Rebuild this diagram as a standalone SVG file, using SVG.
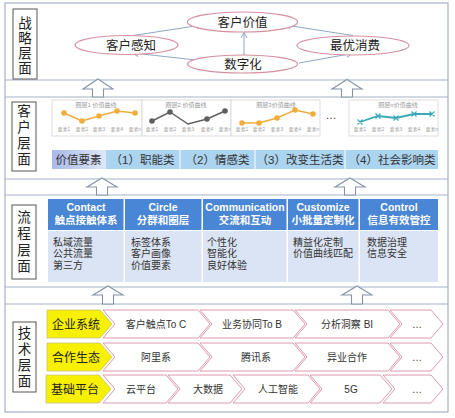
<svg xmlns="http://www.w3.org/2000/svg" width="455" height="418" viewBox="0 0 455 418">
<defs>
<style>
text{font-family:"Liberation Sans","Noto Sans CJK SC",sans-serif;fill:#333}
.frame{fill:none;stroke:#a3b1c4;stroke-width:1.2}
.lbl{fill:#fff;stroke:#555;stroke-width:1}
.vt{font-size:13.5px;text-anchor:middle;fill:#222}
.ell{fill:#fff;stroke:#d68f9f;stroke-width:1.2}
.et{font-size:12.5px;text-anchor:middle;fill:#222}
.con{fill:none;stroke:#8ea7c6;stroke-width:1;marker-end:url(#ah)}
.barrow{fill:#fff;stroke:#8693a6;stroke-width:1.1}
.panel{fill:#fff;stroke:#d4d4d4;stroke-width:0.8}
.ct{font-size:6px;text-anchor:middle;fill:#9a9a9a}
.ax{font-size:4.8px;text-anchor:middle;fill:#a0a0a0}
.vcell{fill:#abd4f0}
.vtx{font-size:11.5px;text-anchor:middle;fill:#333}
.hd{fill:#4a86d6}
.bd{fill:#dbe4f4}
.ht{font-size:10.5px;font-weight:bold;text-anchor:middle;fill:#fff}
.bt{font-size:10px;fill:#333}
.chev{fill:#fff;stroke:#dc9aac;stroke-width:1}
.yel{fill:#f7f000;stroke:#c9c27a;stroke-width:0.8}
.yt{font-size:12px;text-anchor:middle;fill:#222}
.cvt{font-size:10px;text-anchor:middle;fill:#333}
</style>
<marker id="ah" markerWidth="7" markerHeight="7" refX="6" refY="3.5" orient="auto" markerUnits="userSpaceOnUse">
<path d="M0.5,0.5 L6,3.5 L0.5,6.5" fill="none" stroke="#8ea7c6" stroke-width="1"/>
</marker>
<linearGradient id="vg" x1="0" y1="0" x2="1" y2="0">
<stop offset="0" stop-color="#a9b9ea"/>
<stop offset="1" stop-color="#dfe6f6"/>
</linearGradient>
</defs>

<!-- outer frame and separators -->
<g id="frame">
<rect class="frame" x="5" y="3" width="443" height="409"/>
<line class="frame" x1="5" y1="80" x2="448" y2="80"/>
<line class="frame" x1="5" y1="97" x2="448" y2="97"/>
<line class="frame" x1="5" y1="179" x2="448" y2="179"/>
<line class="frame" x1="5" y1="195" x2="448" y2="195"/>
<line class="frame" x1="5" y1="287" x2="448" y2="287"/>
<line class="frame" x1="5" y1="304" x2="448" y2="304"/>
</g>

<!-- layer labels -->
<g id="label-strategy">
<rect class="lbl" x="13" y="9" width="24" height="70"/>
<text class="vt" x="25" y="28">战</text><text class="vt" x="25" y="43">略</text><text class="vt" x="25" y="58">层</text><text class="vt" x="25" y="73">面</text>
</g>
<g id="label-customer">
<rect class="lbl" x="12" y="102" width="24" height="69"/>
<text class="vt" x="24" y="116">客</text><text class="vt" x="24" y="131.5">户</text><text class="vt" x="24" y="148">层</text><text class="vt" x="24" y="164">面</text>
</g>
<g id="label-process">
<rect class="lbl" x="12" y="205" width="24" height="74"/>
<text class="vt" x="24" y="222">流</text><text class="vt" x="24" y="238">程</text><text class="vt" x="24" y="255">层</text><text class="vt" x="24" y="270.5">面</text>
</g>
<g id="label-tech">
<rect class="lbl" x="13" y="322" width="23" height="70"/>
<text class="vt" x="24.5" y="338">技</text><text class="vt" x="24.5" y="353.5">术</text><text class="vt" x="24.5" y="370">层</text><text class="vt" x="24.5" y="386">面</text>
</g>

<!-- connectors -->
<g id="connectors">
<line class="con" x1="133" y1="35.5" x2="202" y2="25"/>
<line class="con" x1="353" y1="35.5" x2="285" y2="25"/>
<line class="con" x1="244" y1="55" x2="244" y2="32.5"/>
<line class="con" x1="196" y1="60" x2="133" y2="53"/>
<line class="con" x1="299" y1="63" x2="352" y2="53.5"/>
<path class="barrow" d="M98,79 L113,89 L103.5,89 L103.5,97 L92.5,97 L92.5,89 L83,89 Z"/>
<path class="barrow" d="M347,79.5 L362,89 L352.5,89 L352.5,97 L341.5,97 L341.5,89 L332,89 Z"/>
<path class="barrow" d="M102,178 L117,187 L107.5,187 L107.5,195 L96.5,195 L96.5,187 L87,187 Z"/>
<path class="barrow" d="M350,178 L365,187 L355.5,187 L355.5,195 L344.5,195 L344.5,187 L335,187 Z"/>
<path class="barrow" d="M108,286 L123,295 L113.5,295 L113.5,304 L102.5,304 L102.5,295 L93,295 Z"/>
<path class="barrow" d="M357,286 L372,295 L362.5,295 L362.5,304 L351.5,304 L351.5,295 L342,295 Z"/>
</g>

<!-- strategy nodes -->
<g id="n-value"><ellipse class="ell" cx="242.5" cy="22" rx="55" ry="10"/><text class="et" x="242.5" y="26.5">客户价值</text></g>
<g id="n-perception"><ellipse class="ell" cx="126.5" cy="45" rx="51.5" ry="9.5"/><text class="et" x="131" y="49.5">客户感知</text></g>
<g id="n-consume"><ellipse class="ell" cx="353" cy="45.5" rx="56" ry="9.5"/><text class="et" x="355" y="50">最优消费</text></g>
<g id="n-digital"><ellipse class="ell" cx="242.5" cy="64" rx="55" ry="9"/><text class="et" x="243" y="68.5">数字化</text></g>

<!-- customer layer charts -->
<g id="chart1">
<rect class="panel" x="52" y="100" width="90" height="36"/>
<text class="ct" x="96" y="107">圈层1 价值曲线</text>
<polyline points="64,113 82,121 99,116 117,111 135,113" fill="none" stroke="#f0ac3c" stroke-width="1.5"/>
<g fill="#f0ac3c"><circle cx="64" cy="113" r="2.8"/><circle cx="82" cy="121" r="2.8"/><circle cx="99" cy="116" r="2.8"/><circle cx="117" cy="111" r="2.8"/><circle cx="135" cy="113" r="2.8"/></g>
<text class="ax" x="64" y="131">要素1</text><text class="ax" x="82" y="131">要素2</text><text class="ax" x="99" y="131">要素3</text><text class="ax" x="117" y="131">要素4</text><text class="ax" x="135" y="131">要素n</text>
</g>
<g id="chart2">
<rect class="panel" x="142" y="100" width="89" height="36"/>
<text class="ct" x="186" y="107">圈层2 价值曲线</text>
<polyline points="152,121 170,112 188,124 207,119 225,111" fill="none" stroke="#5f5f5f" stroke-width="1.5"/>
<g fill="#5f5f5f"><circle cx="152" cy="121" r="2.8"/><circle cx="170" cy="112" r="2.8"/><circle cx="207" cy="119" r="2.8"/><circle cx="225" cy="111" r="2.8"/></g>
<text class="ax" x="152" y="131">要素1</text><text class="ax" x="170" y="131">要素2</text><text class="ax" x="188" y="131">要素3</text><text class="ax" x="207" y="131">要素4</text><text class="ax" x="225" y="131">要素n</text>
</g>
<g id="chart3">
<rect class="panel" x="231" y="100" width="89" height="36"/>
<text class="ct" x="276" y="107">圈层3价值曲线</text>
<polyline points="242,123 259,123 277,118 295,110 313,114" fill="none" stroke="#f0ac3c" stroke-width="1.5"/>
<g fill="#f0ac3c"><circle cx="242" cy="123" r="2.8"/><circle cx="259" cy="123" r="2.8"/><circle cx="277" cy="118" r="2.8"/><circle cx="295" cy="110" r="2.8"/><circle cx="313" cy="114" r="2.8"/></g>
<text class="ax" x="242" y="131">要素1</text><text class="ax" x="259" y="131">要素2</text><text class="ax" x="277" y="131">要素3</text><text class="ax" x="295" y="131">要素4</text><text class="ax" x="313" y="131">要素n</text>
</g>
<g id="ellipsis"><text x="331" y="119" font-size="11" text-anchor="middle" fill="#444">…</text></g>
<g id="chart4">
<rect class="panel" x="349" y="100" width="89" height="36"/>
<text class="ct" x="398" y="107">圈层n价值曲线</text>
<polyline points="360,122 378,116 396,118 414,114 432,114" fill="none" stroke="#3aa8b8" stroke-width="1.8"/>
<g stroke="#3aa8b8" stroke-width="1.2">
<path d="M357.5,119.5l5,5m0,-5l-5,5M375.5,113.5l5,5m0,-5l-5,5M393.5,115.5l5,5m0,-5l-5,5M411.5,111.5l5,5m0,-5l-5,5M429.5,111.5l5,5m0,-5l-5,5"/>
</g>
<text class="ax" x="360" y="131">要素1</text><text class="ax" x="378" y="131">要素2</text><text class="ax" x="396" y="131">要素3</text><text class="ax" x="414" y="131">要素4</text><text class="ax" x="432" y="131">要素n</text>
</g>

<!-- value element bar -->
<g id="value-bar">
<rect x="52" y="150" width="53" height="19" fill="url(#vg)"/>
<rect class="vcell" x="105.5" y="150" width="74" height="19"/>
<rect class="vcell" x="180.5" y="150" width="74" height="19"/>
<rect class="vcell" x="255.5" y="150" width="89" height="19"/>
<rect class="vcell" x="345.5" y="150" width="92.5" height="19"/>
<text class="vtx" x="78.5" y="163.5">价值要素</text>
<text class="vtx" x="142.5" y="163.5">（1）职能类</text>
<text class="vtx" x="217.5" y="163.5">（2）情感类</text>
<text class="vtx" x="300" y="163.5">（3）改变生活类</text>
<text class="vtx" x="392" y="163.5">（4）社会影响类</text>
</g>

<!-- process layer -->
<g id="p-contact">
<rect class="hd" x="48" y="199" width="75.5" height="31"/><rect class="bd" x="48" y="231" width="75.5" height="51"/>
<text class="ht" x="86" y="211">Contact</text><text class="ht" x="86" y="224">触点接触体系</text>
<text class="bt" x="53" y="245.5">私域流量</text><text class="bt" x="53" y="257">公共流量</text><text class="bt" x="53" y="268.5">第三方</text>
</g>
<g id="p-circle">
<rect class="hd" x="125" y="199" width="76.5" height="31"/><rect class="bd" x="125" y="231" width="76.5" height="51"/>
<text class="ht" x="163" y="211">Circle</text><text class="ht" x="163" y="224">分群和圈层</text>
<text class="bt" x="131" y="245.5">标签体系</text><text class="bt" x="131" y="257">客户画像</text><text class="bt" x="131" y="268.5">价值要素</text>
</g>
<g id="p-communication">
<rect class="hd" x="203" y="199" width="83.5" height="31"/><rect class="bd" x="203" y="231" width="83.5" height="51"/>
<text class="ht" x="245" y="211">Communication</text><text class="ht" x="245" y="224">交流和互动</text>
<text class="bt" x="207" y="245.5">个性化</text><text class="bt" x="207" y="257">智能化</text><text class="bt" x="207" y="268.5">良好体验</text>
</g>
<g id="p-customize">
<rect class="hd" x="288" y="199" width="70.5" height="31"/><rect class="bd" x="288" y="231" width="70.5" height="51"/>
<text class="ht" x="323" y="211">Customize</text><text class="ht" x="323" y="224">小批量定制化</text>
<text class="bt" x="293" y="245.5">精益化定制</text><text class="bt" x="293" y="257">价值曲线匹配</text>
</g>
<g id="p-control">
<rect class="hd" x="360" y="199" width="78" height="31"/><rect class="bd" x="360" y="231" width="78" height="51"/>
<text class="ht" x="399" y="211">Control</text><text class="ht" x="399" y="224">信息有效管控</text>
<text class="bt" x="367" y="245.5">数据治理</text><text class="bt" x="367" y="257">信息安全</text>
</g>

<!-- tech layer row 1 -->
<g id="t-row1">
<path class="chev" d="M103,310 L198,310 L210,324 L198,338 L103,338 L115,324 Z"/>
<path class="chev" d="M200,310 L293,310 L305,324 L293,338 L200,338 L212,324 Z"/>
<path class="chev" d="M295,310 L388,310 L400,324 L388,338 L295,338 L307,324 Z"/>
<path class="chev" d="M390,310 L431,310 L443,324 L431,338 L390,338 L402,324 Z"/>
<path class="yel" d="M47,310 L100,310 L112,324 L100,338 L47,338 Z"/>
<text class="yt" x="76" y="328.5">企业系统</text>
<text class="cvt" x="156" y="327.5">客户触点To C</text>
<text class="cvt" x="252" y="327.5">业务协同To B</text>
<text class="cvt" x="347" y="327.5">分析洞察 BI</text>
<text class="cvt" x="417" y="327.5" fill="#888">…</text>
</g>
<!-- tech layer row 2 -->
<g id="t-row2">
<path class="chev" d="M103,343 L198,343 L210,357 L198,371 L103,371 L115,357 Z"/>
<path class="chev" d="M200,343 L293,343 L305,357 L293,371 L200,371 L212,357 Z"/>
<path class="chev" d="M295,343 L388,343 L400,357 L388,371 L295,371 L307,357 Z"/>
<path class="chev" d="M390,343 L431,343 L443,357 L431,371 L390,371 L402,357 Z"/>
<path class="yel" d="M47,343 L100,343 L112,357 L100,371 L47,371 Z"/>
<text class="yt" x="76" y="361.5">合作生态</text>
<text class="cvt" x="156" y="360.5">阿里系</text>
<text class="cvt" x="256" y="360.5">腾讯系</text>
<text class="cvt" x="347" y="360.5">异业合作</text>
<text class="cvt" x="417" y="360.5" fill="#888">…</text>
</g>
<!-- tech layer row 3 -->
<g id="t-row3">
<path class="chev" d="M103,375 L166,375 L178,389 L166,403 L103,403 L115,389 Z"/>
<path class="chev" d="M168,375 L230,375 L242,389 L230,403 L168,403 L180,389 Z"/>
<path class="chev" d="M233,375 L308,375 L320,389 L308,403 L233,403 L245,389 Z"/>
<path class="chev" d="M310,375 L380,375 L392,389 L380,403 L310,403 L322,389 Z"/>
<path class="chev" d="M383,375 L431,375 L443,389 L431,403 L383,403 L395,389 Z"/>
<path class="yel" d="M46,375 L99,375 L111,389 L99,403 L46,403 Z"/>
<text class="yt" x="75" y="393.5">基础平台</text>
<text class="cvt" x="141" y="392.5">云平台</text>
<text class="cvt" x="208" y="392.5">大数据</text>
<text class="cvt" x="278" y="392.5">人工智能</text>
<text class="cvt" x="351" y="392.5">5G</text>
<text class="cvt" x="417" y="392.5" fill="#888">…</text>
</g>
</svg>
